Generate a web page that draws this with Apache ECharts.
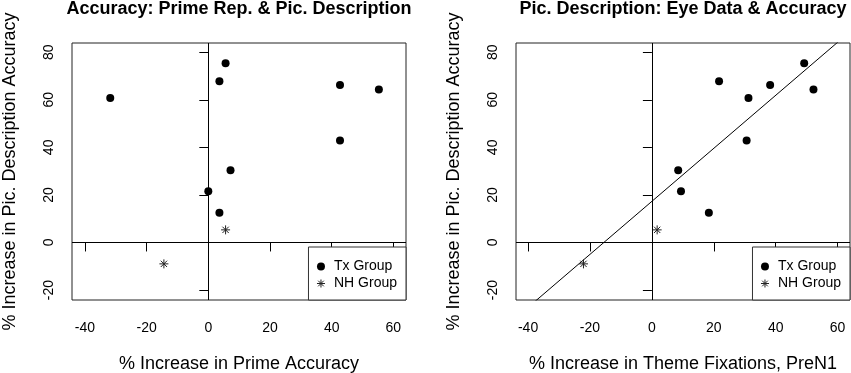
<!DOCTYPE html>
<html>
<head>
<meta charset="utf-8">
<script src="https://cdn.jsdelivr.net/npm/echarts@6/dist/echarts.min.js"></script>
<style>
  html, body { margin: 0; padding: 0; background: #fff; }
  #chart { width: 851px; height: 373px; }
</style>
</head>
<body>
<div id="chart"></div>
<script>
// values
const picTx = [60.8, 75.4, 67.8, 66.2, 64.3, 42.9, 30.4, 21.5, 12.5];
const picNH = [5.3, -9.0];
const primeTx = [-31.8, 5.6, 3.6, 42.7, 55.3, 42.7, 7.2, 0, 3.6];
const primeNH = [5.6, -14.4];
const fixTx = [31.2, 49.2, 21.7, 38.2, 52.2, 30.6, 8.5, 9.4, 18.4];
const fixNH = [1.7, -22.1];
const xTicks = [-40, -20, 0, 20, 40, 60];
const yTicks = [-20, 0, 20, 40, 60, 80];
const fitIntercept = 17.3;
const fitSlope = 1.115;

const xRange1 = [-44.2, 64.1];
const xRange2 = [-43.9, 64.0];
const yRange = [-24.2, 83.9];

const FONT = 'Liberation Sans';
const INK = '#000';
const ASTERISK = 'path://M5 0L5 10M0 5L10 5M1.5 1.5L8.5 8.5M8.5 1.5L1.5 8.5';
const starStyle = { color: 'rgba(0,0,0,0)', borderColor: '#222', borderWidth: 1, opacity: 1 };

const zip = (xs, ys) => xs.map((x, i) => [x, ys[i]]);

const xAxisOf = (idx, range, name) => ({
  type: 'value',
  gridIndex: idx,
  min: range[0],
  max: range[1],
  name,
  nameLocation: 'middle',
  nameGap: 55,
  nameTextStyle: { fontFamily: FONT, fontSize: 18, color: INK },
  axisLine: { show: false },
  axisTick: { show: true, length: 9, lineStyle: { color: INK }, customValues: xTicks },
  axisLabel: { fontFamily: FONT, fontSize: 14, color: INK, margin: 21, customValues: xTicks },
  splitLine: { show: false },
});

const yAxisOf = (idx) => ({
  type: 'value',
  gridIndex: idx,
  min: yRange[0],
  max: yRange[1],
  name: '% Increase in Pic. Description Accuracy',
  nameLocation: 'middle',
  nameRotate: 90,
  nameGap: 53,
  nameTextStyle: { fontFamily: FONT, fontSize: 18, color: INK },
  axisLine: { show: false },
  axisTick: { show: true, length: 9, lineStyle: { color: INK }, customValues: yTicks },
  axisLabel: { fontFamily: FONT, fontSize: 14, color: INK, margin: 16, rotate: 90, customValues: yTicks },
  splitLine: { show: false },
});

// zero reference lines (abline h=0, v=0)
const zeroLines = {
  silent: true,
  symbol: ['none', 'none'],
  label: { show: false },
  lineStyle: { color: INK, width: 1, type: 'solid', opacity: 1 },
  emphasis: { disabled: true },
  data: [{ xAxis: 0 }, { yAxis: 0 }],
};

const txSeries = (idx, xs) => ({
  name: 'Tx Group',
  type: 'scatter',
  xAxisIndex: idx,
  yAxisIndex: idx,
  symbol: 'circle',
  symbolSize: 8,
  itemStyle: { color: INK, opacity: 1 },
  data: zip(xs, picTx),
  markLine: zeroLines,
  z: 3,
});

const nhSeries = (idx, xs) => ({
  name: 'NH Group',
  type: 'scatter',
  xAxisIndex: idx,
  yAxisIndex: idx,
  symbol: ASTERISK,
  symbolSize: 9,
  itemStyle: starStyle,
  data: zip(xs, picNH),
  z: 3,
});

const legendOf = (right) => ({
  orient: 'vertical',
  right,
  bottom: 73,
  data: [
    { name: 'Tx Group', icon: 'circle', itemStyle: { color: INK, opacity: 1, borderWidth: 0 } },
    { name: 'NH Group', icon: ASTERISK, itemStyle: starStyle },
  ],
  itemWidth: 8,
  itemHeight: 8,
  itemGap: 0,
  padding: [11, 9, 8, 8],
  borderColor: '#333',
  borderWidth: 1,
  backgroundColor: '#fff',
  selectedMode: false,
  textStyle: { fontFamily: FONT, fontSize: 14, color: INK, lineHeight: 17, padding: [0, 0, 0, 4] },
});

const fitData = xRange2.map((x) => [x, fitIntercept + fitSlope * x]);

const gridOf = (left) => ({
  left, top: 43, width: 334, height: 257,
  show: true, borderColor: '#222', borderWidth: 1, backgroundColor: 'transparent',
  outerBoundsMode: 'none', containLabel: false,
});

const chart = echarts.init(document.getElementById('chart'), null, { renderer: 'canvas' });
chart.setOption({
  animation: false,
  backgroundColor: '#fff',
  title: [
    {
      text: 'Accuracy: Prime Rep. & Pic. Description',
      left: 239, top: 0, textAlign: 'center', padding: 0,
      textStyle: { fontFamily: FONT, fontSize: 18, fontWeight: 'bold', color: INK },
    },
    {
      text: 'Pic. Description: Eye Data & Accuracy',
      left: 683, top: 0, textAlign: 'center', padding: 0,
      textStyle: { fontFamily: FONT, fontSize: 18, fontWeight: 'bold', color: INK },
    },
  ],
  grid: [gridOf(72), gridOf(516)],
  xAxis: [
    xAxisOf(0, xRange1, '% Increase in Prime Accuracy'),
    xAxisOf(1, xRange2, '% Increase in Theme Fixations, PreN1'),
  ],
  yAxis: [yAxisOf(0), yAxisOf(1)],
  legend: [legendOf(851 - 406), legendOf(1)],
  series: [
    txSeries(0, primeTx),
    nhSeries(0, primeNH),
    txSeries(1, fixTx),
    nhSeries(1, fixNH),
    {
      name: 'fit',
      type: 'line',
      xAxisIndex: 1,
      yAxisIndex: 1,
      data: fitData,
      showSymbol: false,
      symbol: 'none',
      silent: true,
      clip: true,
      lineStyle: { color: INK, width: 1 },
      z: 2,
    },
  ],
});
</script>
</body>
</html>
